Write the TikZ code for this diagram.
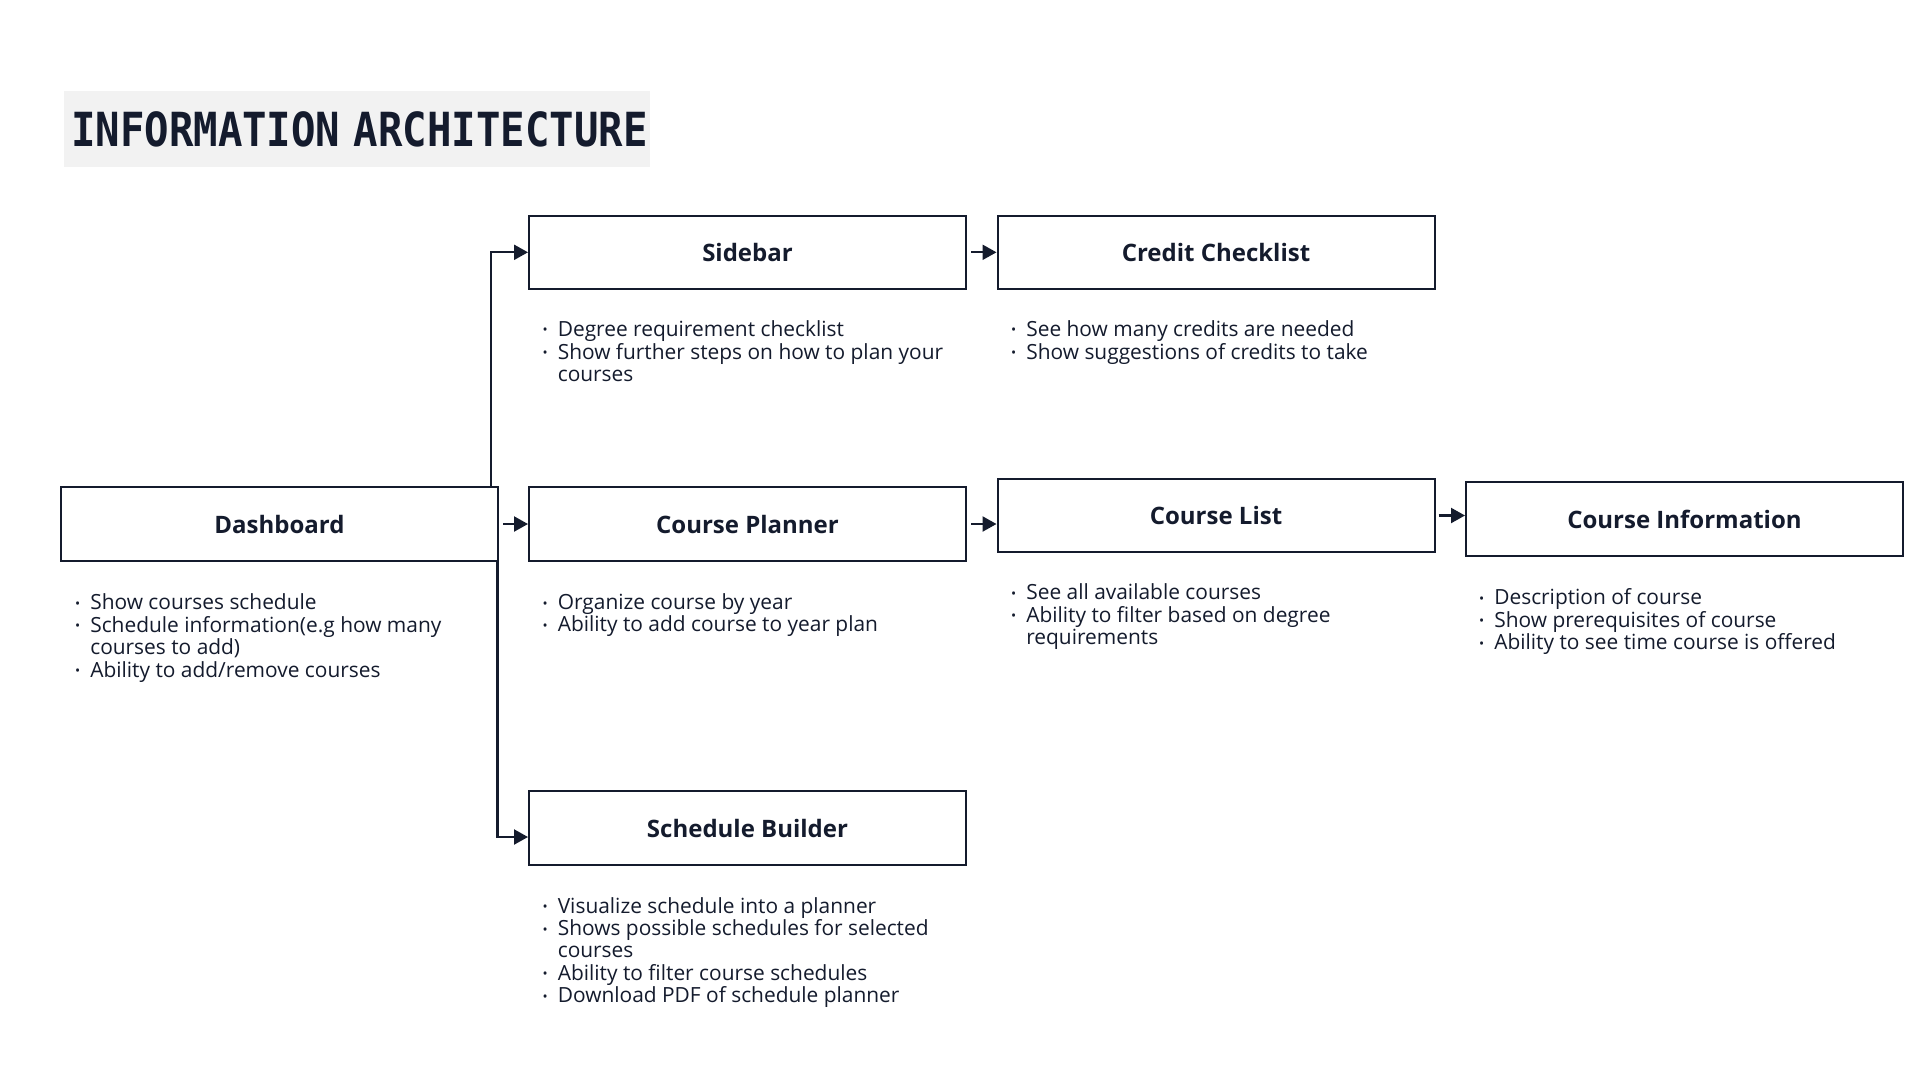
\documentclass[tikz,border=0pt]{standalone}
\usepackage{fontspec}
\usepackage{graphicx}
\setmainfont{Open Sans}
\newfontfamily\titlefont{DejaVu Sans Mono}
\usetikzlibrary{arrows.meta}
\definecolor{ink}{HTML}{141B2D}
\definecolor{titlebg}{HTML}{F2F2F2}
\newcommand{\bul}{\raisebox{1.5pt}{\scalebox{0.65}{\textbullet}}}
\begin{document}
\begin{tikzpicture}[x=1pt,y=-1pt,
  box/.style={draw=ink, line width=2pt, minimum width=437pt, minimum height=73.5pt,
    text=ink, font=\fontsize{24}{28}\selectfont\bfseries, inner sep=0pt},
  link/.style={draw=ink, line width=2.2pt, -{Triangle[length=14pt,width=15pt]}},
  list/.style={anchor=base west, text=ink, font=\fontsize{20.9}{22}\selectfont, inner sep=0pt, align=left}]
\useasboundingbox (0,0) rectangle (1920,1080);
\fill[white] (0,0) rectangle (1920,1080);

\node[fill=titlebg, anchor=north west, minimum width=586pt, minimum height=76pt,
  text width=572pt, inner xsep=7pt, align=left, text=ink,
  font=\titlefont\bfseries\fontsize{47}{47}\selectfont] (title) at (64,91)
  {\scalebox{0.865}[1]{INFORMATION ARCHITECTURE}};

\node[box] (side)   at (747.5,252.3) {Sidebar};
\node[box] (credit) at (1216,252.3)  {Credit Checklist};
\node[box] (dash)   at (279.5,524)   {Dashboard};
\node[box] (plan)   at (747.5,524)   {Course Planner};
\node[box] (clist)  at (1216,515.5)  {Course List};
\node[box] (info)   at (1684.5,519)  {Course Information};
\node[box] (sched)  at (747.5,828)   {Schedule Builder};

\node[list] (dashL) at (75,609.5) {\begin{tabular}[t]{@{}l@{\hspace{10pt}}l@{}}
\bul & Show courses schedule\\
\bul & Schedule information(e.g how many\\
 & courses to add)\\
\bul & Ability to add/remove courses\end{tabular}};
\node[list] (sideL) at (542.5,336.4) {\begin{tabular}[t]{@{}l@{\hspace{10pt}}l@{}}
\bul & Degree requirement checklist\\
\bul & Show further steps on how to plan your\\
 & courses\end{tabular}};
\node[list] (creditL) at (1011,336.4) {\begin{tabular}[t]{@{}l@{\hspace{10pt}}l@{}}
\bul & See how many credits are needed\\
\bul & Show suggestions of credits to take\end{tabular}};
\node[list] (planL) at (542.5,609.5) {\begin{tabular}[t]{@{}l@{\hspace{10pt}}l@{}}
\bul & Organize course by year\\
\bul & Ability to add course to year plan\end{tabular}};
\node[list] (clistL) at (1011,599.7) {\begin{tabular}[t]{@{}l@{\hspace{10pt}}l@{}}
\bul & See all available courses\\
\bul & Ability to filter based on degree\\
 & requirements\end{tabular}};
\node[list] (infoL) at (1479,604.6) {\begin{tabular}[t]{@{}l@{\hspace{10pt}}l@{}}
\bul & Description of course\\
\bul & Show prerequisites of course\\
\bul & Ability to see time course is offered\end{tabular}};
\node[list] (schedL) at (542.5,913) {\begin{tabular}[t]{@{}l@{\hspace{10pt}}l@{}}
\bul & Visualize schedule into a planner\\
\bul & Shows possible schedules for selected\\
 & courses\\
\bul & Ability to filter course schedules\\
\bul & Download PDF of schedule planner\end{tabular}};

\draw[link] ([xshift=4pt]dash.east) -- (plan.west);
\draw[link] ([xshift=4pt]side.east) -- (credit.west);
\draw[link] ([xshift=4pt]plan.east) -- (plan.east -| clist.west);
\draw[link] ([xshift=3pt]clist.east) -- (clist.east -| info.west);
\draw[link] ([xshift=-8pt]dash.north east) |- (side.west);
\draw[link] ([xshift=-1.5pt]dash.south east) |- ([yshift=-9pt]sched.west);
\end{tikzpicture}
\end{document}
